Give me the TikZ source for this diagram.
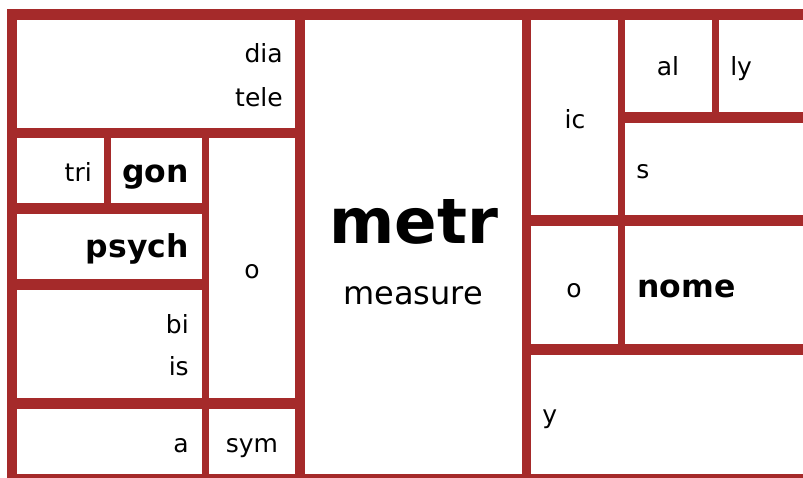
\documentclass[tikz,border=0pt]{standalone}
\usepackage{fontspec}
\setmainfont{DejaVu Sans}
\definecolor{RootRed}{HTML}{A52A2A}

\begin{document}
\begin{tikzpicture}[
  x=0.75pt, y=-0.75pt,
  cell/.style={fill=white},
  part/.style={inner sep=0pt,font=\fontsize{18.75}{22}\selectfont},
  root/.style={inner sep=0pt,font=\fontsize{23.6}{28}\selectfont\bfseries},
  meaning/.style={inner sep=0pt,font=\fontsize{24}{28}\selectfont}
]
  \useasboundingbox (0,0) rectangle (803,478);
  \fill[RootRed] (6.5,9.5) rectangle (803,478);
  \foreach \xa/\ya/\xb/\yb in {17/20/295/128, 17/138/104/203, 111/138/202/203,
      17/214/202/279, 17/290/202/398, 209/138/295/398, 17/409/202/473.5,
      209/409/295/473.5, 305/20/522/473.5, 531/20/618/215, 625/20/712/112,
      719/20/803/112, 625/123/803/215, 531/226/618/344, 625/226/803/344,
      531/355/803/473.5}
    \fill[cell] (\xa,\ya) rectangle (\xb,\yb);

  \node[part, anchor=base east] (dia) at (283,63) {dia};
  \node[part, anchor=base east] (tele) at (283,106) {tele};
  \node[part, anchor=base east] (tri) at (92,181) {tri};
  \node[root, anchor=base east] (gon) at (189,182) {gon};
  \node[root, anchor=base east] (psych) at (189,257) {psych};
  \node[part, anchor=base] (oleft) at (252,278) {o};
  \node[part, anchor=base east] (bi) at (189,333) {bi};
  \node[part, anchor=base east] (is) at (189,375) {is};
  \node[part, anchor=base east] (a) at (189,452) {a};
  \node[part, anchor=base] (sym) at (252,452) {sym};

  \node[inner sep=0pt, anchor=base, font=\fontsize{47}{52}\selectfont\bfseries] (metr) at (414,243) {metr};
  \node[meaning, anchor=base] (measure) at (413,304) {measure};

  \node[part, anchor=base] (ic) at (575,128) {ic};
  \node[part, anchor=base] (al) at (668,76) {al};
  \node[part, anchor=base west] (ly) at (730,76) {ly};
  \node[part, anchor=base west] (s) at (636,178) {s};
  \node[part, anchor=base] (oright) at (574,297) {o};
  \node[root, anchor=base west] (nome) at (637,297) {nome};
  \node[part, anchor=base west] (y) at (542,423) {y};
\end{tikzpicture}
\end{document}
